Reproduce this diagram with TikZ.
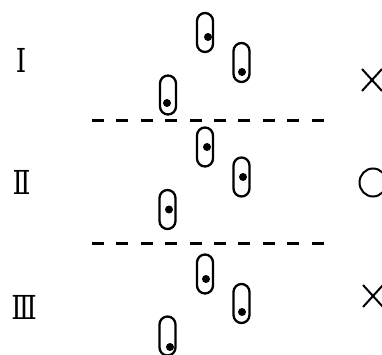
\documentclass[tikz,border=0pt]{standalone}
\usepackage{fontspec}
\newfontfamily\numfont{DejaVu Serif}
\begin{document}
\begin{tikzpicture}[x=1pt,y=-1pt,
  capsule/.style={draw, line width=2.3pt, rounded corners=8pt,
    minimum width=16pt, minimum height=39pt, inner sep=0pt, outer sep=0pt},
  pin/.style={fill, circle, minimum size=8pt, inner sep=0pt},
  divider/.style={line width=2.5pt, dash pattern=on 12pt off 12.4pt},
  numeral/.style={font=\numfont\fontsize{33}{33}\selectfont, inner sep=0pt, xscale=0.8},
  verdict/.style={line width=2pt}]
\useasboundingbox (0,0) rectangle (382,355);
\clip (0,0) rectangle (382,355);

% row labels
\node[numeral] (l1) at (21,60) {Ⅰ};
\node[numeral] (l2) at (21.5,182) {Ⅱ};
\node[numeral] (l3) at (24,307) {Ⅲ};

% group I
\node[capsule] (a1) at (205,32.5) {};
\node[capsule] (b1) at (241.5,62.5) {};
\node[capsule] (c1) at (168,95) {};
\node[pin] at ([shift={(3,4.5)}]a1.center) {};
\node[pin] at ([shift={(0.5,9.5)}]b1.center) {};
\node[pin] at ([shift={(-1,8)}]c1.center) {};

% group II
\node[capsule] (a2) at (205,147) {};
\node[capsule] (b2) at (241.5,177) {};
\node[capsule] (c2) at (167.5,209.5) {};
\node[pin] at ([shift={(2,0)}]a2.center) {};
\node[pin] at ([shift={(1.5,0)}]b2.center) {};
\node[pin] at ([shift={(1.5,0)}]c2.center) {};

% group III
\node[capsule] (a3) at (205,274) {};
\node[capsule] (b3) at (241.5,303.5) {};
\node[capsule] (c3) at (167.5,336) {};
\node[pin] at ([shift={(1,5)}]a3.center) {};
\node[pin] at ([shift={(0.5,8.5)}]b3.center) {};
\node[pin] at ([shift={(2.5,11)}]c3.center) {};

% dashed dividers
\coordinate (d1l) at (92,120.5);
\coordinate (d1r) at (325,120.5);
\coordinate (d2l) at (92,243.5);
\coordinate (d2r) at (325,243.5);
\draw[divider] (d1l) -- (d1r);
\draw[divider] (d2l) -- (d2r);

% verdict marks
\draw[verdict] (362,69) -- (382,91) (362,91) -- (382,69);
\draw[verdict] (373,182.5) ellipse (13.5pt and 14pt);
\draw[verdict] (363,285) -- (383,307) (363,307) -- (383,285);
\end{tikzpicture}
\end{document}
